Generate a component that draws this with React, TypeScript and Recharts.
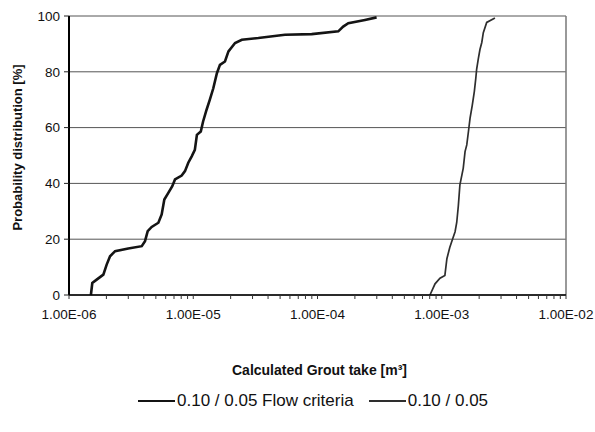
import React from "react";
import { LineChart, Line, XAxis, YAxis, CartesianGrid, Legend, ReferenceLine } from "recharts";

// Left curve: 0.10 / 0.05 Flow criteria (grout take m3, cumulative %)
const flowTake = [
  1.5e-6, 1.54e-6, 1.67e-6, 1.89e-6, 2.01e-6, 2.14e-6, 2.35e-6, 3.0e-6, 3.85e-6, 4.09e-6,
  4.3e-6, 4.63e-6, 5.24e-6, 5.57e-6, 5.85e-6, 6.3e-6, 6.78e-6, 7.13e-6, 8.07e-6, 8.58e-6,
  9.12e-6, 9.72e-6, 1.03e-5, 1.07e-5, 1.15e-5, 1.2e-5, 1.28e-5, 1.36e-5, 1.45e-5, 1.55e-5,
  1.64e-5, 1.8e-5, 1.92e-5, 2.17e-5, 2.46e-5, 3.34e-5, 5.47e-5, 8.98e-5, 1.47e-4, 1.61e-4,
  1.77e-4, 2.41e-4, 2.99e-4,
];
const flowProb = [
  0, 4.3, 5.5, 7.3, 10.9, 13.9, 15.7, 16.7, 17.5, 19.3,
  22.9, 24.4, 25.9, 28.9, 34.2, 36.6, 39, 41.4, 42.8, 44.4,
  47.4, 49.7, 52, 57.4, 58.6, 62.2, 66.4, 70, 74.1, 79.5,
  82.5, 83.7, 87.3, 90.3, 91.5, 92.1, 93.3, 93.5, 94.5, 96.2,
  97.4, 98.6, 99.5,
];

// Right curve: 0.10 / 0.05
const baseTake = [
  8.04e-4, 8.83e-4, 9.68e-4, 1.06e-3, 1.1e-3, 1.16e-3, 1.2e-3, 1.28e-3, 1.32e-3, 1.36e-3,
  1.4e-3, 1.49e-3, 1.54e-3, 1.59e-3, 1.64e-3, 1.69e-3, 1.76e-3, 1.83e-3, 1.88e-3, 1.91e-3,
  1.97e-3, 2.03e-3, 2.1e-3, 2.16e-3, 2.3e-3, 2.68e-3,
];
const baseProb = [
  0, 4, 6, 7, 13, 17, 19, 22.7, 26, 32,
  39.5, 45.5, 51.4, 53.8, 58.6, 63.4, 68, 73, 77.7, 81,
  84.7, 88, 90.5, 94, 97.7, 99.3,
];

const decadeTicks = [1e-6, 1e-5, 1e-4, 1e-3, 1e-2];
const decadeLabels = ["1.00E-06", "1.00E-05", "1.00E-04", "1.00E-03", "1.00E-02"];
const minorMultipliers = [2, 3, 4, 5, 6, 7, 8, 9];
const yTicks = [0, 20, 40, 60, 80, 100];

const seriesNames = ["0.10 / 0.05 Flow criteria", "0.10 / 0.05"];
const xTitle = "Calculated Grout take [m\u00B3]";
const yTitle = "Probability distribution [%]";

const flowData = flowTake.map((x, i) => ({ x, y: flowProb[i] }));
const baseData = baseTake.map((x, i) => ({ x, y: baseProb[i] }));

const xTicks: number[] = [];
decadeTicks.forEach((d, i) => {
  xTicks.push(d);
  if (i < decadeTicks.length - 1) minorMultipliers.forEach((m) => xTicks.push(d * m));
});

const FONT = '"Liberation Sans", Arial, Helvetica, sans-serif';

const formatX = (v: number) => {
  const idx = decadeTicks.findIndex((d) => Math.abs(d - v) / d < 1e-6);
  return idx >= 0 ? decadeLabels[idx] : "";
};

const LegendContent = (props: any) => {
  const items = [...(props.payload || [])].sort(
    (a: any, b: any) => seriesNames.indexOf(a.value) - seriesNames.indexOf(b.value)
  );
  return (
    <div style={{ display: "flex", alignItems: "center", fontFamily: FONT, fontSize: 17, color: "#111", whiteSpace: "nowrap" }}>
      {items.map((it: any, i: number) => (
        <div key={i} style={{ display: "flex", alignItems: "center", marginRight: 15 }}>
          <span
            style={{
              display: "inline-block",
              width: 37,
              height: it.value === seriesNames[0] ? 2.5 : 1.6,
              background: it.color,
              marginRight: 2,
            }}
          />
          <span>{it.value}</span>
        </div>
      ))}
    </div>
  );
};

const XTick = (props: any) => {
  const { x, y, payload } = props;
  const label = formatX(payload.value);
  return (
    <g>
      <line x1={x} y1={295} x2={x} y2={299} stroke="#333" strokeWidth={1} />
      {label ? (
        <text x={x} y={y} dy="0.71em" textAnchor="middle" fontFamily={FONT} fontSize={13.5} fill="#111">
          {label}
        </text>
      ) : null}
    </g>
  );
};

export default function App() {
  return (
    <div style={{ position: "absolute", left: 0, top: 0, width: 595, height: 432, background: "#fff" }}>
      <LineChart width={595} height={432} margin={{ top: 16, right: 29, left: 0, bottom: 107 }}>
        <CartesianGrid horizontal={true} vertical={false} stroke="#555" strokeWidth={1} />
        <XAxis
          dataKey="x"
          type="number"
          scale="log"
          domain={[1e-6, 1e-2]}
          allowDataOverflow
          ticks={xTicks}
          interval={0}
          height={30}
          tickSize={4}
          tickMargin={10}
          axisLine={{ stroke: "#000", strokeWidth: 1.5 }}
          tickLine={false}
          tick={<XTick />}
          label={{
            content: (p: any) => {
              const vb = p.viewBox || {};
              return (
                <text
                  x={vb.x + vb.width / 2 + 2}
                  y={vb.y + 80}
                  textAnchor="middle"
                  fontFamily={FONT}
                  fontSize={14}
                  fontWeight="bold"
                  fill="#111"
                >
                  {xTitle}
                </text>
              );
            },
          }}
        />
        <YAxis
          type="number"
          domain={[0, 100]}
          ticks={yTicks}
          interval={0}
          width={69}
          tickSize={5}
          tickMargin={4}
          axisLine={{ stroke: "#000", strokeWidth: 2 }}
          tickLine={{ stroke: "#222" }}
          tick={{ fontFamily: FONT, fontSize: 13.5, fill: "#111" }}
          label={{
            content: (p: any) => {
              const vb = p.viewBox || {};
              const cx = 17;
              const cy = vb.y + vb.height / 2 - 8;
              return (
                <text
                  x={cx}
                  y={cy}
                  transform={`rotate(-90, ${cx}, ${cy})`}
                  textAnchor="middle"
                  dominantBaseline="central"
                  fontFamily={FONT}
                  fontSize={13}
                  fontWeight="bold"
                  fill="#111"
                >
                  {yTitle}
                </text>
              );
            },
          }}
        />
        <ReferenceLine x={1e-2} stroke="#777" strokeWidth={1.5} ifOverflow="visible" />
        <Line
          data={flowData}
          dataKey="y"
          name={seriesNames[0]}
          type="linear"
          stroke="#141414"
          strokeWidth={2.6}
          dot={false}
          activeDot={false}
          isAnimationActive={false}
        />
        <Line
          data={baseData}
          dataKey="y"
          name={seriesNames[1]}
          type="linear"
          stroke="#2e2e2e"
          strokeWidth={1.7}
          dot={false}
          activeDot={false}
          isAnimationActive={false}
        />
        <Legend
          layout="horizontal"
          verticalAlign="middle"
          align="center"
          itemSorter={null as any}
          content={<LegendContent />}
          wrapperStyle={{ left: 138, top: 391, width: 440, height: 22 }}
        />
      </LineChart>
    </div>
  );
}
